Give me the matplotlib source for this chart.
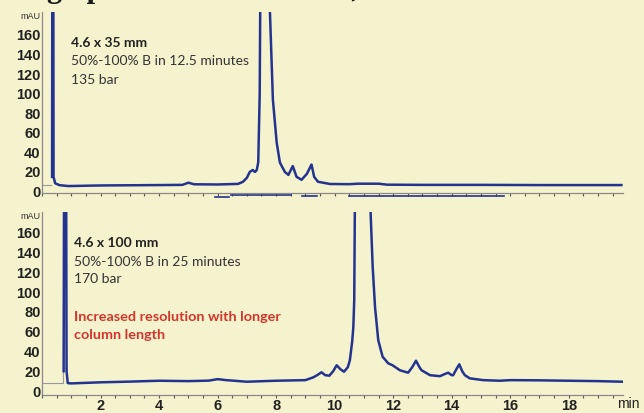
import numpy as np
import matplotlib.pyplot as plt

# chromatogram 1: 4.6 x 35 mm (time in min, signal in mAU)
top_t = [0.345, 0.355, 0.37, 0.385, 0.395, 0.45, 0.6, 0.9, 2.0, 3.0, 4.0, 4.8, 5.0, 5.2,
         6.0, 6.7, 6.87, 7.0, 7.1, 7.2, 7.28, 7.34, 7.39, 7.44, 7.48, 7.63, 7.77, 7.79,
         7.89, 8.02, 8.13, 8.3, 8.42, 8.57, 8.7, 8.87, 9.05, 9.21, 9.3, 9.43, 9.84,
         10.5, 10.8, 11.5, 11.8, 13.0, 15.0, 17.0, 19.8]
top_v = [15, 300, 1500, 300, 15, 8.4, 6.5, 5.6, 6.2, 6.4, 6.6, 6.8, 9, 7.4,
         7.2, 7.8, 10, 14, 20, 22, 20, 22, 30, 100, 300, 2000, 300, 183,
         94, 50, 29.6, 20, 17, 26, 15, 12, 18, 27.6, 15, 10, 7.7,
         7.5, 8, 8, 7, 6.8, 6.8, 6.6, 6.6]
top_pre_t = [0.0, 0.31]
top_pre_v = [6.6, 6.6]
# stray trace just under the first x axis
under_t = [5.91, 6.4, np.nan, 6.45, 8.5, np.nan, 8.9, 9.4, np.nan, 10.5, 15.8]
under_v = [-5.5, -5.5, np.nan, -3.5, -3.5, np.nan, -4.5, -4.5, np.nan, -4.5, -4.5]

# chromatogram 2: 4.6 x 100 mm
bot_t = [0.74, 0.76, 0.79, 0.82, 0.84, 0.88, 1.0, 2.0, 3.0, 4.0, 5.0, 5.7, 6.0, 6.3,
         7.0, 8.0, 9.0, 9.27, 9.4, 9.55, 9.68, 9.82, 9.95, 10.07, 10.2, 10.32, 10.45,
         10.52, 10.6, 10.64, 10.67, 10.69, 10.72, 10.96, 11.2, 11.23, 11.30, 11.38,
         11.49, 11.64, 11.83, 11.98, 12.23, 12.51, 12.65, 12.78, 12.9, 12.97, 13.26,
         13.6, 13.75, 13.88, 14.0, 14.05, 14.16, 14.26, 14.36, 14.45, 14.62, 15.08,
         15.65, 16.0, 17.0, 18.0, 19.0, 19.85]
bot_v = [20, 300, 1500, 300, 20, 8, 7.7, 8.8, 9.5, 10.4, 10, 10.5, 12, 11,
         9.4, 10.4, 11, 13.8, 16, 18.9, 16, 15.5, 20, 26, 22, 19.5, 24,
         31, 50, 65, 92, 180, 400, 2000, 400, 180, 125.6, 85,
         51.5, 34.6, 28, 26, 21, 18.5, 24, 30.6, 24, 21, 16,
         15, 17, 18.5, 16, 16, 22, 27, 20, 16, 12.8, 11,
         10.4, 11, 10.8, 10.4, 10, 9.4]
bot_pre_t = [0.0, 0.72, 0.72]
bot_pre_v = [8.4, 8.4, 21]

y_ticks = [0, 20, 40, 60, 80, 100, 120, 140, 160]
x_ticks = [2, 4, 6, 8, 10, 12, 14, 16, 18]

bg = "#f5f3cd"
blue = "#24338f"
red = "#d2352c"
num_font = "Liberation Sans"
txt_font = "Lato"

fig = plt.figure(figsize=(6.44, 4.13), dpi=100, facecolor=bg)

ax1 = fig.add_axes([0.0652, 0.5327, 0.902, 0.4383])
ax2 = fig.add_axes([0.0652, 0.0436, 0.902, 0.4431])

for ax in (ax1, ax2):
    ax.set_facecolor(bg)
    ax.set_xlim(0, 19.85)
    ax.set_yticks(y_ticks)
    ax.set_yticklabels([str(v) for v in y_ticks], fontfamily=num_font,
                       fontweight="bold", fontsize=10.5, color="#222222")
    ax.set_xticks(np.arange(0, 19.9, 0.5), minor=True)
    ax.set_xticks(x_ticks)
    ax.tick_params(axis="y", length=0, pad=1)
    ax.tick_params(axis="x", which="both", length=2.2, width=0.8,
                   color="#555555", direction="out")
    for s in ("top", "right"):
        ax.spines[s].set_visible(False)
    for s in ("left", "bottom"):
        ax.spines[s].set_color("#888888")
        ax.spines[s].set_linewidth(0.9)

ax1.set_ylim(-1.5, 183.5)
ax2.set_ylim(-4, 180.8)
ax1.set_xticklabels([])
ax2.set_xticklabels([str(v) for v in x_ticks], fontfamily=num_font,
                    fontweight="bold", fontsize=10.5, color="#222222")
ax2.tick_params(axis="x", pad=0.5)

ax1.plot(top_pre_t, top_pre_v, color="#999999", lw=0.8)
ax1.plot(top_t, top_v, color=blue, lw=1.8, solid_joinstyle="round")
ax1.plot(under_t, under_v, color=blue, lw=1.2, clip_on=False)
ax2.plot(bot_pre_t, bot_pre_v, color="#999999", lw=0.8)
ax2.plot(bot_t, bot_v, color=blue, lw=1.8, solid_joinstyle="round")

# axis unit labels
for ax in (ax1, ax2):
    ax.text(-0.003, 1.0, "mAU", transform=ax.transAxes, ha="right", va="top",
            fontsize=6.5, fontfamily=num_font, color="#333333")
fig.text(628 / 644, 1 - 404 / 413, "min", ha="center", va="center",
         fontsize=10, fontfamily=num_font, color="#222222")

# annotations
fs = 10
fig.text(71 / 644, 1 - 43 / 413, "4.6 x 35 mm", fontfamily=txt_font,
         fontweight="bold", fontsize=fs, va="center", color="#222222")
fig.text(71 / 644, 1 - 61 / 413, "50%-100% B in 12.5 minutes", fontfamily=txt_font,
         fontsize=fs, va="center", color="#333333")
fig.text(71 / 644, 1 - 79.5 / 413, "135 bar", fontfamily=txt_font,
         fontsize=fs, va="center", color="#333333")

fig.text(74 / 644, 1 - 243 / 413, "4.6 x 100 mm", fontfamily=txt_font,
         fontweight="bold", fontsize=fs, va="center", color="#222222")
fig.text(74 / 644, 1 - 261.5 / 413, "50%-100% B in 25 minutes", fontfamily=txt_font,
         fontsize=fs, va="center", color="#333333")
fig.text(74 / 644, 1 - 279 / 413, "170 bar", fontfamily=txt_font,
         fontsize=fs, va="center", color="#333333")
fig.text(74 / 644, 1 - 317 / 413, "Increased resolution with longer", fontfamily=txt_font,
         fontweight="bold", fontsize=10.4, va="center", color=red)
fig.text(74 / 644, 1 - 335 / 413, "column length", fontfamily=txt_font,
         fontweight="bold", fontsize=10.4, va="center", color=red)

# slide title, almost entirely cut off by the top edge (only descenders show)
title_y = 1 + 3 / 413
fig.text(47 / 644, title_y, "Increasin", ha="right", va="baseline",
         fontfamily="Liberation Serif", fontweight="bold", fontsize=22, color="#1b1b1b")
fig.text(47 / 644, title_y, "g Speed and Resolution, Columns",
         ha="left", va="baseline", fontfamily="Liberation Serif",
         fontweight="bold", fontsize=22, color="#1b1b1b")

fig.savefig("out.png", dpi=100, facecolor=bg)
